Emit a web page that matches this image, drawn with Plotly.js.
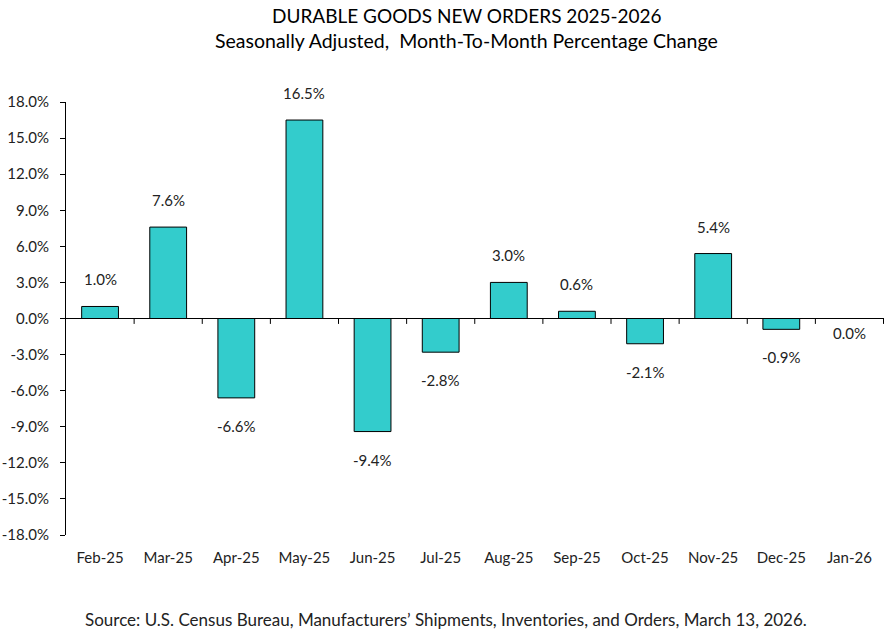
<!DOCTYPE html>
<html>
<head>
<meta charset="utf-8">
<script src="https://cdn.plot.ly/plotly-3.0.1.min.js"></script>
<style>html,body{margin:0;padding:0;background:#fff;}#chart{width:888px;height:630px;}</style>
</head>
<body>
<div id="chart"></div>
<script>
const months = ["Feb-25","Mar-25","Apr-25","May-25","Jun-25","Jul-25","Aug-25","Sep-25","Oct-25","Nov-25","Dec-25","Jan-26"];
const pctChange = [1.0, 7.6, -6.6, 16.5, -9.4, -2.8, 3.0, 0.6, -2.1, 5.4, -0.9, 0.0];
const yTickVals = [-18,-15,-12,-9,-6,-3,0,3,6,9,12,15,18];
const yTickText = yTickVals.map(v => v.toFixed(1) + "%");
const titleLine1 = "DURABLE GOODS NEW ORDERS 2025-2026";
const titleLine2 = "Seasonally Adjusted,  Month-To-Month Percentage Change";
const sourceText = "Source: U.S. Census Bureau, Manufacturers\u2019 Shipments, Inventories, and Orders, March 13, 2026.";

const FONT = "Lato, 'Open Sans', sans-serif";

const annotations = pctChange.map((v, i) => ({
  x: months[i], y: v, xref: "x", yref: "y",
  text: v.toFixed(1) + "%",
  showarrow: false,
  yanchor: "middle",
  yshift: v > 0 ? 27 : (v < 0 ? -28 : -14),
  font: {family: FONT, size: 15, color: "#222"}
}));

annotations.push(
  {xref: "paper", yref: "paper", x: 0.49, y: 1 + (102 - 15) / 433, xanchor: "center", yanchor: "middle",
   showarrow: false, text: titleLine1, font: {family: FONT, size: 19, color: "#000"}},
  {xref: "paper", yref: "paper", x: 0.49, y: 1 + (102 - 40) / 433, xanchor: "center", yanchor: "middle",
   showarrow: false, text: titleLine2, font: {family: FONT, size: 19.5, color: "#000"}},
  {xref: "paper", yref: "paper", x: 0.465, y: -(619 - 535) / 433, xanchor: "center", yanchor: "middle",
   showarrow: false, text: sourceText, font: {family: FONT, size: 17, color: "#222"}}
);

const trace = {
  type: "bar",
  x: months,
  y: pctChange,
  width: 0.54,
  marker: {color: "#33CCCC", line: {color: "#000", width: 1}},
  hoverinfo: "skip"
};

const layout = {
  width: 888, height: 630,
  margin: {l: 66, r: 4, t: 102, b: 95},
  paper_bgcolor: "#fff", plot_bgcolor: "#fff",
  showlegend: false,
  xaxis: {
    type: "category",
    showgrid: false, zeroline: false,
    showline: false,
    ticks: "", showticklabels: true,
    ticklabelstandoff: 12,
    tickfont: {family: FONT, size: 15, color: "#222"}
  },
  yaxis: {
    range: [-18, 18],
    tickvals: yTickVals, ticktext: yTickText,
    showgrid: false, zeroline: false,
    showline: true, linecolor: "#000", linewidth: 1,
    ticks: "outside", ticklen: 5, tickcolor: "#000",
    ticklabelstandoff: 8,
    tickfont: {family: FONT, size: 15, color: "#222"}
  },
  shapes: [
    {type: "line", xref: "paper", yref: "y", x0: 0, x1: 1, y0: 0, y1: 0, line: {color: "#000", width: 1}}
  ].concat(months.map((m, i) => ({
    type: "line", xref: "x", yref: "y", x0: i + 0.5, x1: i + 0.5, y0: 0, y1: -0.45,
    line: {color: "#000", width: 1}
  }))),
  annotations: annotations
};

Plotly.newPlot("chart", [trace], layout, {displayModeBar: false, staticPlot: true});
</script>
</body>
</html>
